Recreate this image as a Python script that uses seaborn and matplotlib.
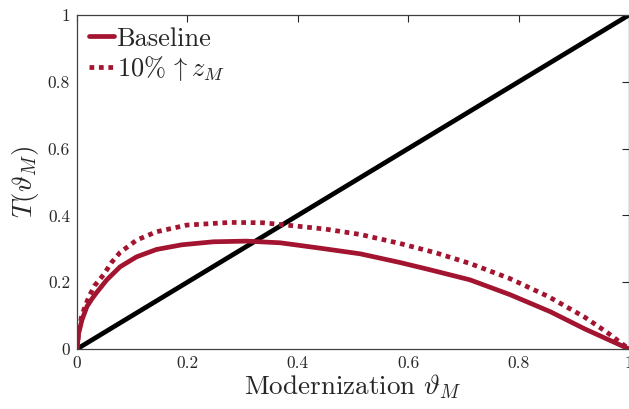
import matplotlib
matplotlib.use("Agg")
import matplotlib.pyplot as plt
import seaborn as sns

# Data
x_base = [0, 0.003, 0.009, 0.018, 0.027, 0.036, 0.054, 0.078, 0.108, 0.144, 0.19, 0.247, 0.307,
          0.368, 0.44, 0.513, 0.585, 0.64, 0.712, 0.784, 0.857, 0.92, 1.0]
y_base = [0, 0.047, 0.087, 0.127, 0.150, 0.170, 0.207, 0.246, 0.276, 0.298, 0.312, 0.321, 0.323,
          0.318, 0.302, 0.285, 0.259, 0.237, 0.207, 0.163, 0.112, 0.060, 0]
x_up = [0, 0.003, 0.008, 0.014, 0.022, 0.032, 0.048, 0.063, 0.078, 0.108, 0.144, 0.199, 0.277,
        0.337, 0.398, 0.45, 0.513, 0.585, 0.65, 0.712, 0.784, 0.854, 0.92, 0.96, 1.0]
y_up = [0, 0.05, 0.095, 0.125, 0.158, 0.19, 0.222, 0.26, 0.289, 0.326, 0.351, 0.371, 0.379,
        0.378, 0.368, 0.359, 0.343, 0.316, 0.288, 0.256, 0.211, 0.157, 0.095, 0.05, 0]
x_diag = [0, 1]
y_diag = [0, 1]
ticks = [0, 0.2, 0.4, 0.6, 0.8, 1]
tick_labels = ["0", "0.2", "0.4", "0.6", "0.8", "1"]

sns.set_theme(style="white")
plt.rcParams["font.family"] = "serif"
plt.rcParams["font.serif"] = ["cmr10", "DejaVu Serif"]
plt.rcParams["mathtext.fontset"] = "cm"
plt.rcParams["axes.unicode_minus"] = False

red = "#A2142F"
lw = 3.4
fig = plt.figure(figsize=(6.29, 4.09), dpi=100)
ax = fig.add_axes([0.1224, 0.1467, 0.8776, 0.8166])

sns.lineplot(x=x_diag, y=y_diag, ax=ax, color="black", linewidth=lw, estimator=None, sort=False)
sns.lineplot(x=x_base, y=y_base, ax=ax, color=red, linewidth=lw, estimator=None, sort=False,
             label="Baseline")
sns.lineplot(x=x_up, y=y_up, ax=ax, color=red, linewidth=lw, estimator=None, sort=False,
             label=r"10%$\,\uparrow z_M$")
ax.lines[-1].set_dashes([1, 1])
ax.lines[-1].set_dash_capstyle("butt")
for ln in ax.lines:
    ln.set_solid_joinstyle("round")

ax.set_xlim(0, 1)
ax.set_ylim(0, 1)
ax.set_xticks(ticks)
ax.set_xticklabels(tick_labels)
ax.set_yticks(ticks)
ax.set_yticklabels(tick_labels)
ax.tick_params(direction="in", top=True, right=True, length=5, width=0.8,
               labelsize=12.5, colors="#262626", pad=5)
for s in ax.spines.values():
    s.set_color("#404040")
    s.set_linewidth(0.9)

ax.set_xlabel(r"Modernization $\vartheta_M$", fontsize=19.5, color="#262626", labelpad=1)
ax.set_ylabel(r"$T(\vartheta_M)$", fontsize=19.5, color="#262626", labelpad=5)

leg = ax.legend(loc="upper left", frameon=False, fontsize=19, handlelength=0.95,
                handletextpad=0.1, borderaxespad=0.15, labelspacing=0.12,
                borderpad=0.3)
for h in leg.get_lines():
    h.set_linewidth(lw)

fig.savefig("out.png", dpi=100)
